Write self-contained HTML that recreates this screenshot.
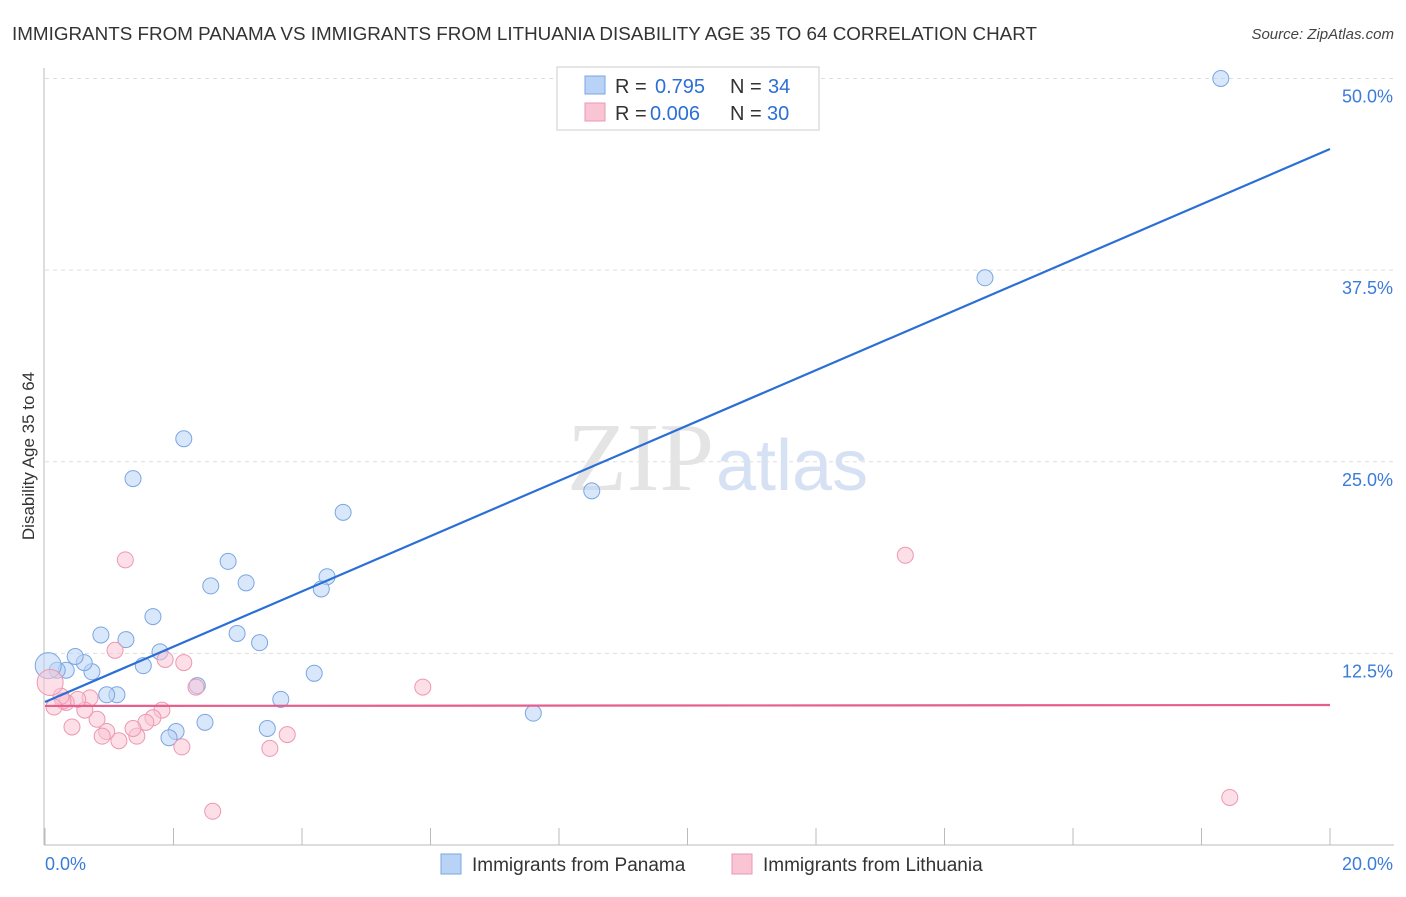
<!DOCTYPE html>
<html><head><meta charset="utf-8"><style>
body{margin:0;background:#fff;font-family:"Liberation Sans",sans-serif;}
</style></head><body>
<svg width="1406" height="892" xmlns="http://www.w3.org/2000/svg">
<text x="12" y="40" font-size="18" fill="#333" textLength="1025" lengthAdjust="spacingAndGlyphs">IMMIGRANTS FROM PANAMA VS IMMIGRANTS FROM LITHUANIA DISABILITY AGE 35 TO 64 CORRELATION CHART</text>
<text x="1394" y="39" font-size="15" fill="#444" font-style="italic" text-anchor="end">Source: ZipAtlas.com</text>
<text x="34" y="456" font-size="17" fill="#333" text-anchor="middle" transform="rotate(-90 34 456)">Disability Age 35 to 64</text>
<g id="grid"></g>
<text x="714" y="490" font-size="98" fill="#e4e4e4" text-anchor="end" font-family="Liberation Serif,serif">ZIP</text>
<text x="716" y="490" font-size="72" fill="#d6e2f3">atlas</text>
<g id="axes"></g>
<g id="marks"></g>
<g>
<rect x="557" y="67" width="262" height="63" fill="#fff" stroke="#ccc"/>
<rect x="585" y="76" width="20" height="18" fill="#b9d3f6" stroke="#7aa6e3"/>
<rect x="585" y="103" width="20" height="18" fill="#f9c4d4" stroke="#ee97b3"/>
<text x="615" y="93" font-size="20" fill="#333">R =</text>
<text x="655" y="93" font-size="20" fill="#2b6fd6">0.795</text>
<text x="730" y="93" font-size="20" fill="#333">N =</text>
<text x="768" y="93" font-size="20" fill="#2b6fd6">34</text>
<text x="615" y="120" font-size="20" fill="#333">R =</text>
<text x="650" y="120" font-size="20" fill="#2b6fd6">0.006</text>
<text x="730" y="120" font-size="20" fill="#333">N =</text>
<text x="767" y="120" font-size="20" fill="#2b6fd6">30</text>
</g>
<g>
<rect x="441" y="854" width="20" height="20" fill="#b9d3f6" stroke="#7aa6e3"/>
<text x="472" y="871" font-size="19" fill="#333">Immigrants from Panama</text>
<rect x="732" y="854" width="20" height="20" fill="#f9c4d4" stroke="#ee97b3"/>
<text x="763" y="871" font-size="19" fill="#333">Immigrants from Lithuania</text>
</g>
</svg>
<script>
const yTicks=[12.5,25,37.5,50];
const yTickLabels=["12.5%","25.0%","37.5%","50.0%"];
const xTicks=[0,2,4,6,8,10,12,14,16,18,20];
const panamaX=[18.3,14.63,8.51,7.6,4.64,4.39,4.3,4.19,3.67,3.46,3.34,3.13,2.99,2.85,2.58,2.49,2.37,2.16,2.04,1.93,1.79,1.68,1.53,1.37,1.26,1.12,0.96,0.87,0.73,0.61,0.47,0.33,0.19,0.05];
const panamaY=[50.0,37.0,23.1,8.6,21.7,17.5,16.7,11.2,9.5,7.6,13.2,17.1,13.8,18.5,16.9,8.0,10.4,26.5,7.4,7.0,12.6,14.9,11.7,23.9,13.4,9.8,9.8,13.7,11.3,11.9,12.3,11.4,11.4,11.7];
const lithX=[18.44,13.39,5.88,3.77,3.5,2.61,2.35,2.16,2.13,1.87,1.82,1.68,1.57,1.43,1.37,1.25,1.09,1.15,0.96,0.89,0.81,0.70,0.62,0.51,0.42,0.33,0.28,0.25,0.14,0.08];
const lithY=[3.1,18.9,10.3,7.2,6.3,2.2,10.3,11.9,6.4,12.1,8.8,8.3,8.0,7.1,7.6,18.6,12.7,6.8,7.4,7.1,8.2,9.6,8.8,9.5,7.7,9.3,9.4,9.7,9.0,10.6];
const panamaTrend=[9.33,45.4];
const lithTrend=[9.07,9.13];
const NS="http://www.w3.org/2000/svg";
const X=v=>45+v*64.25, Y=v=>845-v*15.33;
function mk(t,a,p){const e=document.createElementNS(NS,t);for(const k in a)e.setAttribute(k,a[k]);document.getElementById(p).appendChild(e);return e;}
yTicks.forEach((t,i)=>{
 const l=mk('line',{x1:45,x2:1394,y1:Y(t),y2:Y(t),stroke:'#ddd','stroke-dasharray':'4 4'},'grid');
 
 
 const tx=mk('text',{x:1393,y:Y(t)+24,'font-size':18,fill:'#3b7bd9','text-anchor':'end'},'grid');
 tx.textContent=yTickLabels[i];
 
 
});
let a=mk('line',{x1:44,x2:44,y1:68,y2:845,stroke:'#bbb'},'axes');


a=mk('line',{x1:44,x2:1394,y1:845,y2:845,stroke:'#bbb'},'axes');


xTicks.forEach(t=>{const l=mk('line',{x1:X(t),x2:X(t),y1:828,y2:845,stroke:'#bbb'},'axes');
 
 });
let t0=mk('text',{x:45,y:870,'font-size':18,fill:'#3b7bd9'},'axes');t0.textContent='0.0%';


t0=mk('text',{x:1393,y:870,'font-size':18,fill:'#3b7bd9','text-anchor':'end'},'axes');t0.textContent='20.0%';


function pts(xs,ys,fill,stroke,name,bigIdx){xs.forEach((x,i)=>{const c=mk('circle',{cx:X(x),cy:Y(ys[i]),r:i===bigIdx?13:8,fill:fill,'fill-opacity':0.55,stroke:stroke,'stroke-width':1},'marks');
 
 });}
pts(panamaX,panamaY,'#b9d3f6','#7aa6e3','panama-point',33);
pts(lithX,lithY,'#f9c4d4','#ee97b3','lithuania-point',29);
let tl=mk('line',{x1:X(0),x2:X(20),y1:Y(panamaTrend[0]),y2:Y(panamaTrend[1]),stroke:'#2b6fd6','stroke-width':2.2},'marks');


tl=mk('line',{x1:X(0),x2:X(20),y1:Y(lithTrend[0]),y2:Y(lithTrend[1]),stroke:'#e55e8c','stroke-width':2.2},'marks');


</script>
</body></html>
